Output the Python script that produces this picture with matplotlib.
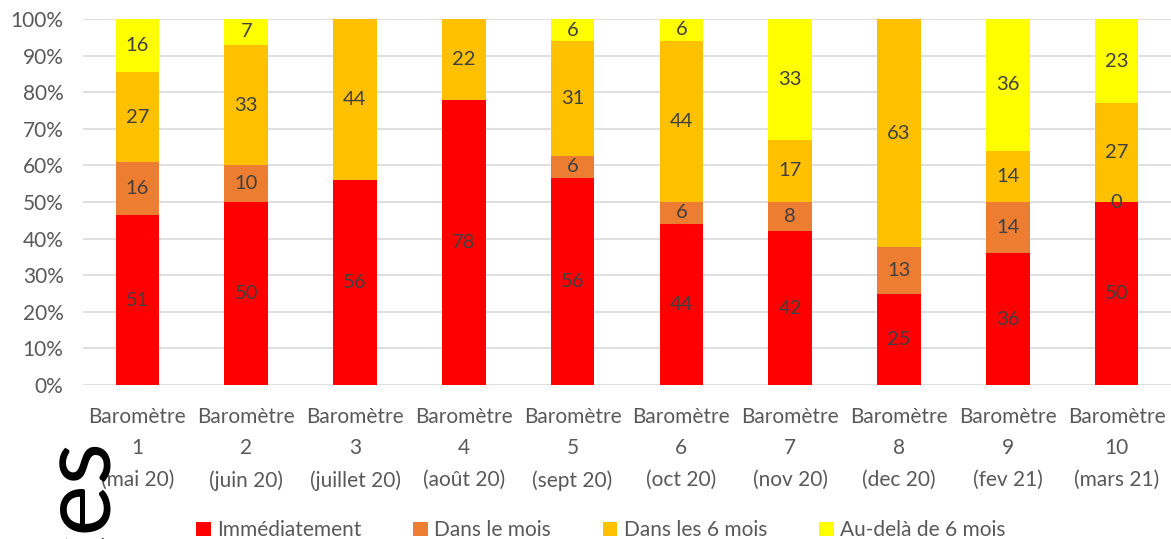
import numpy as np
import matplotlib
import matplotlib.pyplot as plt
from matplotlib.patches import Patch

matplotlib.rcParams["font.family"] = ["Lato", "DejaVu Sans"]

# Chart data
categories = [
    "Baromètre\n1\n(mai 20)", "Baromètre\n2\n(juin 20)", "Baromètre\n3\n(juillet 20)",
    "Baromètre\n4\n(août 20)", "Baromètre\n5\n(sept 20)", "Baromètre\n6\n(oct 20)",
    "Baromètre\n7\n(nov 20)", "Baromètre\n8\n(dec 20)", "Baromètre\n9\n(fev 21)",
    "Baromètre\n10\n(mars 21)",
]
immediatement = [51, 50, 56, 78, 56, 44, 42, 25, 36, 50]
dans_le_mois = [16, 10, None, None, 6, 6, 8, 13, 14, 0]
dans_6_mois = [27, 33, 44, 22, 31, 44, 17, 63, 14, 27]
au_dela_6_mois = [16, 7, None, None, 6, 6, 33, None, 36, 23]

series_names = ["Immédiatement", "Dans le mois", "Dans les 6 mois", "Au-delà de 6 mois"]
series = [immediatement, dans_le_mois, dans_6_mois, au_dela_6_mois]
colors = ["#FF0000", "#ED7D31", "#FFC000", "#FFFF00"]

TEXT_GRAY = "#595959"
LABEL_GRAY = "#404040"

vals = np.array([[np.nan if v is None else v for v in s] for s in series], dtype=float)
totals = np.nansum(vals, axis=0)
pct = np.nan_to_num(vals) / totals * 100

fig = plt.figure(figsize=(11.71, 5.39), dpi=100)
ax = fig.add_axes([83 / 1171, 1 - 385 / 539, 1 - 83 / 1171, (385 - 19) / 539])

x = np.arange(len(categories))
bottom = np.zeros(len(categories))
for k in range(len(series)):
    ax.bar(x, pct[k], bottom=bottom, width=0.4, color=colors[k], zorder=2)
    for i in range(len(categories)):
        if not np.isnan(vals[k, i]):
            ax.text(x[i], bottom[i] + pct[k, i] / 2, f"{int(vals[k, i])}",
                    ha="center", va="center", fontsize=14.5, color=LABEL_GRAY, zorder=3)
    bottom += pct[k]

ax.set_xlim(-0.5, len(categories) - 0.5)
ax.set_ylim(0, 100)
ax.set_yticks(np.arange(0, 101, 10))
ax.set_yticklabels([f"{v}%" for v in range(0, 101, 10)])
ax.set_xticks(x)
ax.set_xticklabels(categories, linespacing=1.7)
ax.tick_params(axis="both", length=0, labelsize=15, labelcolor=TEXT_GRAY)
ax.tick_params(axis="x", pad=16)
ax.tick_params(axis="y", pad=14)
ax.grid(axis="y", color="#D9D9D9", linewidth=1.2, zorder=0)
for sp in ax.spines.values():
    sp.set_visible(False)

handles = [Patch(facecolor=c, edgecolor="none") for c in colors]
fig.legend(handles, series_names, loc="lower center", bbox_to_anchor=(0.513, -0.037),
           ncol=4, frameon=False, fontsize=15, labelcolor=TEXT_GRAY,
           handlelength=0.7, handleheight=0.7, handletextpad=0.3, columnspacing=2.5)

# leftover fragment of slide text
fig.text(107 / 1171, 1 - 437 / 539, "ces", rotation=90, rotation_mode="anchor",
         ha="right", va="baseline", fontsize=70, color="black")

fig.savefig("out.png", dpi=100)
